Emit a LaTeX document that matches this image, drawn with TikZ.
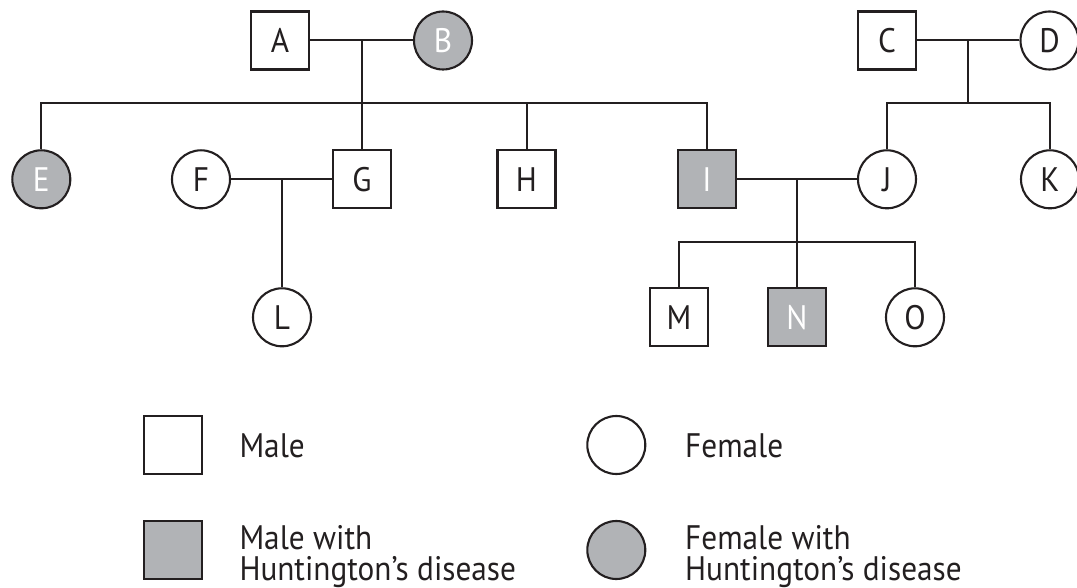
\documentclass[tikz,border=0pt]{standalone}
\usepackage{fontspec}
\setmainfont[FakeStretch=0.92]{PT Sans}
\definecolor{ink}{HTML}{231F20}
\definecolor{hd}{HTML}{B1B3B6}
\tikzset{
  person/.style={draw=ink, line width=2.1pt, inner sep=0pt, text=ink, fill=white,
    font=\fontsize{34}{34}\selectfont},
  male/.style={person, rectangle, minimum width=58pt, minimum height=58pt},
  female/.style={person, circle, minimum size=58pt},
  ill/.style={fill=hd, text=white},
  link/.style={draw=ink, line width=2pt},
  lbl/.style={text=ink, anchor=base west, align=left, inner sep=0pt,
    font=\fontsize{34}{31}\selectfont}
}
\begin{document}
\begin{tikzpicture}[x=1pt, y=-1pt]
\useasboundingbox (0,0) rectangle (1077,588);
% generation I
\node[male] (A) at (280,40.5) {A};
\node[female, ill] (B) at (443,40.5) {B};
\node[male] (C) at (887,40.5) {C};
\node[female] (D) at (1049.5,40.5) {D};
% generation II
\node[female, ill] (E) at (41.3,179.3) {E};
\node[female] (F) at (201,179.3) {F};
\node[male] (G) at (362,179.3) {G};
\node[male] (H) at (526.5,179.3) {H};
\node[male, ill] (I) at (707,179.3) {I};
\node[female] (J) at (887,179.3) {J};
\node[female] (K) at (1050,179.3) {K};
% generation III
\node[female] (L) at (282,317.3) {L};
\node[male] (M) at (679,317.3) {M};
\node[male, ill] (N) at (797,317.3) {N};
\node[female] (O) at (915,317.3) {O};
% couples and sibships
\coordinate (ab) at (362,40.5);
\coordinate (ab2) at (362,103.3);
\draw[link] (A) -- (B);
\draw[link] (ab) -- (G.north);
\draw[link] (E.north) |- (ab2) -| (I.north);
\draw[link] (H.north) -- (H.north |- ab2);
\coordinate (cd) at (968.4,40.5);
\coordinate (cd2) at (968.4,103.3);
\draw[link] (C) -- (D);
\draw[link] (cd) -- (cd2);
\draw[link] (J.north) |- (cd2) -| (K.north);
\coordinate (fg) at (282,179.3);
\draw[link] (F) -- (G);
\draw[link] (fg) -- (L.north);
\coordinate (ij) at (797,179.3);
\coordinate (ij2) at (797,242);
\draw[link] (I) -- (J);
\draw[link] (ij) -- (N.north);
\draw[link] (M.north) |- (ij2) -| (O.north);
% legend
\node[male] (lm) at (173,445) {};
\node[female] (lf) at (616.3,445) {};
\node[male, ill] (lmh) at (173,550) {};
\node[female, ill] (lfh) at (616.3,550) {};
\node[lbl] (tm) at (239.3,457.3) {Male};
\node[lbl] (tf) at (685,457.3) {Female};
\node[lbl] (tmh) at (239.3,580.5) {Male with\\Huntington’s disease};
\node[lbl] (tfh) at (685,580.5) {Female with\\Huntington’s disease};
\end{tikzpicture}
\end{document}
